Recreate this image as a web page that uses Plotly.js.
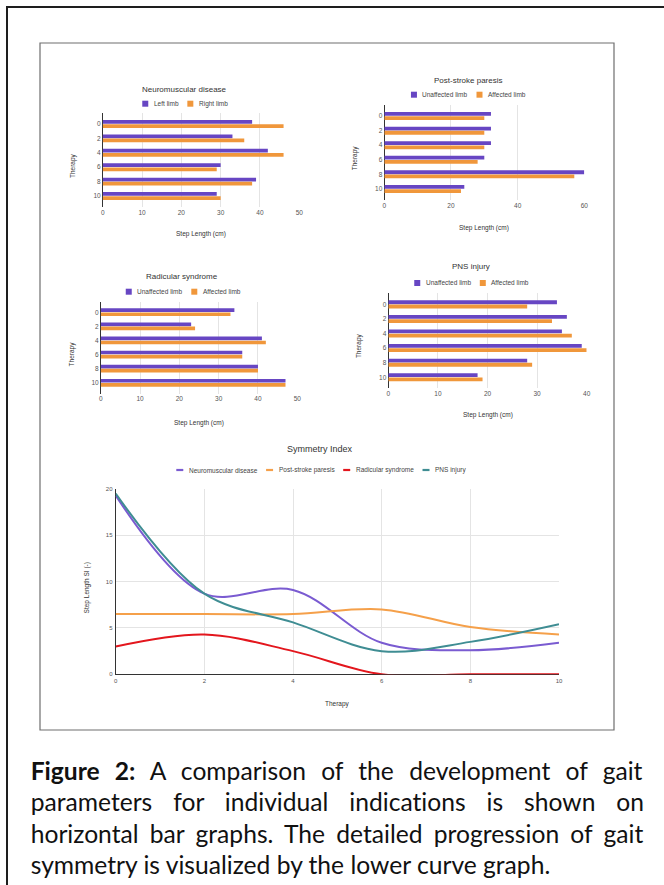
<!DOCTYPE html>
<html>
<head>
<meta charset="utf-8">
<script src="https://cdn.plot.ly/plotly-3.0.1.min.js"></script>
<style>
  html, body { margin: 0; padding: 0; background: #fff; }
  #wrap { position: relative; width: 664px; height: 885px; overflow: hidden; }
  #chart { position: absolute; left: 0; top: 0; width: 664px; height: 885px; }
  #caption { position: absolute; left: 0; top: 0; width: 664px; height: 885px; pointer-events: none; }
  .ln { position: absolute; white-space: nowrap; color: #111; font-family: Lato, "Open Sans", sans-serif;
        font-variant-ligatures: none; font-feature-settings: "liga" 0, "clig" 0; }
  .ln b { font-weight: 700; }
</style>
</head>
<body>
<div id="wrap">
  <div id="chart"></div>
  <div id="caption"></div>
</div>
<script>
// ---- data ----
const therapy = [0, 2, 4, 6, 8, 10];

const nmdLeft  = [38, 33, 42, 30, 39, 29];
const nmdRight = [46, 36, 46, 29, 38, 30];

const pspUnaffected = [32, 32, 32, 30, 60, 24];
const pspAffected   = [30, 30, 30, 28, 57, 23];

const radUnaffected = [34, 23, 41, 36, 40, 47];
const radAffected   = [33, 24, 42, 36, 40, 47];

const pnsUnaffected = [34, 36, 35, 39, 28, 18];
const pnsAffected   = [28, 33, 37, 40, 29, 19];

const siSeriesNames = ['Neuromuscular disease', 'Post-stroke paresis', 'Radicular syndrome', 'PNS injury'];
const siNeuromuscular = [19.3, 8.7, 9.1, 3.4, 2.6, 3.4];
const siPostStroke    = [6.5, 6.5, 6.5, 7.0, 5.1, 4.3];
const siRadicular     = [3.0, 4.3, 2.5, 0, 0, 0];
const siPns           = [19.5, 8.7, 5.6, 2.5, 3.5, 5.4];

const captionLines = [
  ['Figure 2:', ' A comparison of the development of gait'],
  ['', 'parameters for individual indications is shown on'],
  ['', 'horizontal bar graphs. The detailed progression of gait'],
  ['', 'symmetry is visualized by the lower curve graph.']
];

// ---- page geometry (pixels) ----
const W = 664, H = 885;
const px = x => x / W;
const py = y => 1 - y / H;

const FONT = '"Liberation Sans", Arial, sans-serif';
const PURPLE = '#6746c3', ORANGE = '#f0973b';
const LINE_COLORS = ['#7a5bd1', '#f5a04a', '#e3161d', '#3f8d93'];
const GRID = '#e4e4e4', AXIS = '#333333', TICK = '#555555', TEXT = '#333333';

const panels = [
  { title: 'Neuromuscular disease', names: ['Left limb', 'Right limb'], a: nmdLeft, b: nmdRight,
    xmax: 50, dtick: 10, box: [102.7, 299.3, 113, 207], titleAt: [184.5, 89], legendY: 103.7,
    yTitleAt: [73, 166], xTitleAt: [201, 234] },
  { title: 'Post-stroke paresis', names: ['Unaffected limb', 'Affected limb'], a: pspUnaffected, b: pspAffected,
    xmax: 60, dtick: 20, box: [384.3, 584.3, 105, 200], titleAt: [467.7, 80], legendY: 94.7,
    yTitleAt: [355, 158.3], xTitleAt: [484, 228.3] },
  { title: 'Radicular syndrome', names: ['Unaffected limb', 'Affected limb'], a: radUnaffected, b: radAffected,
    xmax: 50, dtick: 10, box: [100.7, 297.3, 301.5, 393.5], titleAt: [182.5, 276], legendY: 291.7,
    yTitleAt: [71.7, 353.7], xTitleAt: [199, 422.7] },
  { title: 'PNS injury', names: ['Unaffected limb', 'Affected limb'], a: pnsUnaffected, b: pnsAffected,
    xmax: 40, dtick: 10, box: [388.3, 586.7, 293.3, 388.3], titleAt: [471, 266.7], legendY: 283,
    yTitleAt: [358.3, 345.8], xTitleAt: [487.5, 415] }
];

const linePanel = { title: 'Symmetry Index', box: [115.7, 559, 489, 674.3], titleAt: [320, 449.3],
  legendY: 470, legendX: 320.5, yTitleAt: [86.7, 587.7], xTitleAt: [337, 704] };

const canvas = document.createElement('canvas');
const ctx = canvas.getContext('2d');
function textWidth(str, size, family, weight) {
  ctx.font = (weight || 'normal') + ' ' + size + 'px ' + family;
  return ctx.measureText(str).width;
}

const traces = [];
const layout = {
  width: W, height: H,
  margin: { l: 0, r: 0, t: 0, b: 0 },
  paper_bgcolor: '#ffffff', plot_bgcolor: '#ffffff',
  showlegend: false,
  barmode: 'group', bargap: 0.42, bargroupgap: 0.1,
  font: { family: FONT, color: TEXT },
  annotations: [], shapes: []
};

function note(text, x, y, size, opts) {
  layout.annotations.push(Object.assign({
    text: text, x: px(x), y: py(y), xref: 'paper', yref: 'paper',
    xanchor: 'center', yanchor: 'middle', showarrow: false, borderpad: 0,
    font: { family: FONT, size: size, color: TEXT }
  }, opts || {}));
}

// horizontal legend row centred on cx; swatch is a square (bars) or a short line (lines)
function legendRow(items, cx, cy, size, kind) {
  const sw = kind === 'line' ? 7 : 6, gapText = 4.5, gapItem = 10;
  const widths = items.map(it => sw + gapText + textWidth(it.name, size, FONT));
  const total = widths.reduce((s, w) => s + w, 0) + gapItem * (items.length - 1);
  let x = cx - total / 2;
  items.forEach((it, i) => {
    if (kind === 'line') {
      layout.shapes.push({ type: 'line', xref: 'paper', yref: 'paper',
        x0: px(x), x1: px(x + sw), y0: py(cy), y1: py(cy),
        line: { color: it.color, width: 2.2 } });
    } else {
      layout.shapes.push({ type: 'rect', xref: 'paper', yref: 'paper',
        x0: px(x), x1: px(x + sw), y0: py(cy + 3), y1: py(cy - 3),
        fillcolor: it.color, line: { width: 0 } });
    }
    note(it.name, x + sw + gapText, cy, size, { xanchor: 'left', font: { family: FONT, size: size, color: '#444' } });
    x += widths[i] + gapItem;
  });
}

// ---- four horizontal bar panels ----
panels.forEach((p, i) => {
  const n = i + 1;
  const xa = n === 1 ? 'x' : 'x' + n, ya = n === 1 ? 'y' : 'y' + n;
  const xKey = n === 1 ? 'xaxis' : 'xaxis' + n, yKey = n === 1 ? 'yaxis' : 'yaxis' + n;
  const [l, r, t, b] = p.box;

  [p.a, p.b].forEach((vals, k) => {
    traces.push({
      type: 'bar', orientation: 'h', name: p.names[k],
      x: vals, y: therapy.map(String),
      xaxis: xa, yaxis: ya,
      marker: { color: k === 0 ? PURPLE : ORANGE, line: { width: 0 } },
      hoverinfo: 'skip'
    });
  });

  layout[xKey] = {
    domain: [px(l), px(r)], anchor: ya,
    range: [0, p.xmax], dtick: p.dtick, tick0: 0,
    showgrid: true, gridcolor: GRID, gridwidth: 1,
    zeroline: true, zerolinecolor: AXIS, zerolinewidth: 1,
    showline: false, ticks: '',
    tickfont: { family: FONT, size: 6.5, color: TICK }, fixedrange: true
  };
  layout[yKey] = {
    domain: [py(b), py(t)], anchor: xa,
    type: 'category', categoryorder: 'array', categoryarray: therapy.map(String),
    range: [5.76, -0.76],
    showgrid: false, zeroline: false, showline: false, ticks: '',
    ticklabelstandoff: 1,
    tickfont: { family: FONT, size: 6.5, color: TICK }, fixedrange: true
  };

  note(p.title, p.titleAt[0], p.titleAt[1], 8);
  legendRow([{ name: p.names[0], color: PURPLE }, { name: p.names[1], color: ORANGE }],
    p.titleAt[0], p.legendY, 6.5, 'square');
  note('Therapy', p.yTitleAt[0], p.yTitleAt[1], 6.5, { textangle: -90 });
  note('Step Length (cm)', p.xTitleAt[0], p.xTitleAt[1], 6.5);
});

// ---- symmetry index curves ----
[siNeuromuscular, siPostStroke, siRadicular, siPns].forEach((vals, k) => {
  traces.push({
    type: 'scatter', mode: 'lines', name: siSeriesNames[k],
    x: therapy, y: vals, xaxis: 'x5', yaxis: 'y5',
    line: { color: LINE_COLORS[k], width: 2, shape: 'spline', smoothing: 1 },
    hoverinfo: 'skip'
  });
});
{
  const [l, r, t, b] = linePanel.box;
  layout.xaxis5 = {
    domain: [px(l), px(r)], anchor: 'y5', range: [0, 10], dtick: 2, tick0: 0,
    showgrid: true, gridcolor: GRID, zeroline: false, layer: 'below traces',
    showline: true, linecolor: AXIS, linewidth: 1, ticks: '',
    tickfont: { family: FONT, size: 6, color: TICK }, fixedrange: true
  };
  layout.yaxis5 = {
    domain: [py(b), py(t)], anchor: 'x5', range: [0, 20], dtick: 5, tick0: 0,
    showgrid: true, gridcolor: GRID, zeroline: false, layer: 'below traces',
    showline: true, linecolor: AXIS, linewidth: 1, ticks: '',
    ticklabelstandoff: 1,
    tickfont: { family: FONT, size: 6, color: TICK }, fixedrange: true
  };
  note(linePanel.title, linePanel.titleAt[0], linePanel.titleAt[1], 9);
  legendRow(siSeriesNames.map((nm, k) => ({ name: nm, color: LINE_COLORS[k] })),
    linePanel.legendX, linePanel.legendY, 6.5, 'line');
  note('Step Length SI (-)', linePanel.yTitleAt[0], linePanel.yTitleAt[1], 6.5, { textangle: -90 });
  note('Therapy', linePanel.xTitleAt[0], linePanel.xTitleAt[1], 6.5);
}

// ---- frames ----
layout.shapes.push({ type: 'rect', xref: 'paper', yref: 'paper',
  x0: px(40), x1: px(614), y0: py(730), y1: py(43),
  line: { color: '#6e6e6e', width: 1.2 }, fillcolor: 'rgba(0,0,0,0)' });
layout.shapes.push({ type: 'rect', xref: 'paper', yref: 'paper',
  x0: px(7), x1: px(720), y0: py(960), y1: py(7),
  line: { color: '#1e1e1e', width: 2 }, fillcolor: 'rgba(0,0,0,0)' });

Plotly.newPlot('chart', traces, layout, { staticPlot: true, displayModeBar: false });

// ---- caption: justified lines set in HTML ----
(function () {
  const fam = 'Lato, "Open Sans", sans-serif';
  const left = 30.7, right = 645, lastWidth = 522;
  const baselines = [780, 811.5, 843, 874.5];
  const last = captionLines[captionLines.length - 1];
  const fs = 100 * lastWidth / textWidth(last[0] + last[1], 100, fam);
  ctx.font = fs + 'px ' + fam;
  const m = ctx.measureText('Hg');
  const asc = m.fontBoundingBoxAscent || fs * 0.99;
  const desc = m.fontBoundingBoxDescent || fs * 0.21;
  const lh = Math.round(fs * 1.4);
  const cap = document.getElementById('caption');
  captionLines.forEach((parts, i) => {
    const natural = textWidth(parts[0], fs, fam, 'bold') + textWidth(parts[1], fs, fam);
    const spaces = (parts[0] + parts[1]).split(' ').length - 1;
    const isLast = i === captionLines.length - 1;
    const ws = isLast ? 0 : (right - left - natural) / spaces;
    const div = document.createElement('div');
    div.className = 'ln';
    div.style.fontSize = fs + 'px';
    div.style.lineHeight = lh + 'px';
    div.style.left = left + 'px';
    div.style.wordSpacing = ws + 'px';
    div.style.top = (baselines[i] - ((lh - asc - desc) / 2 + asc)) + 'px';
    if (parts[0]) {
      const b = document.createElement('b');
      b.textContent = parts[0];
      div.appendChild(b);
    }
    div.appendChild(document.createTextNode(parts[1]));
    cap.appendChild(div);
  });
})();
</script>
</body>
</html>
